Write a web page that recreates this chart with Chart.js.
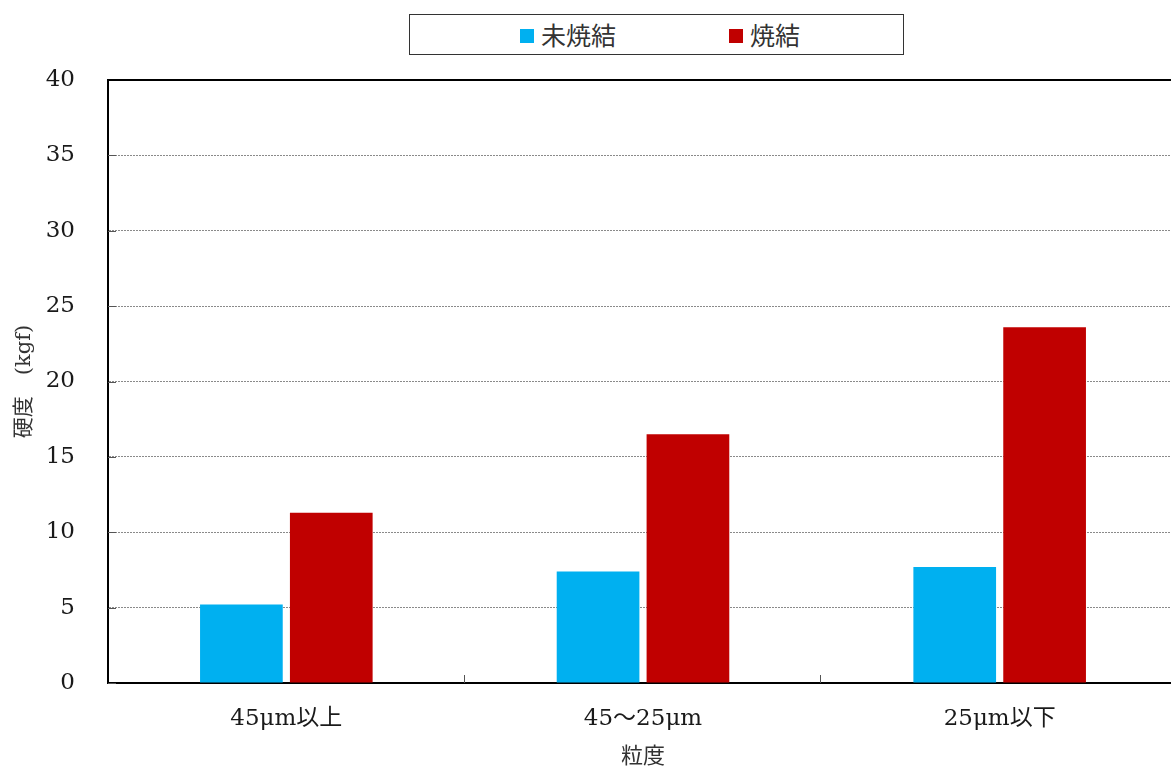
<!DOCTYPE html>
<html>
<head>
<meta charset="utf-8">
<script src="https://cdn.jsdelivr.net/npm/chart.js@4"></script>
<style>
  html, body { margin: 0; padding: 0; background: #fff; overflow: hidden; }
  #wrap { position: relative; width: 1200px; height: 767px; }
  #legend {
    position: absolute; left: 409px; top: 14px; width: 493px; height: 39px;
    border: 1.5px solid #333; background: #fff; box-sizing: content-box;
    font-family: 'Noto Sans CJK JP', sans-serif; font-size: 25px; color: #333;
  }
  .item { position: absolute; top: 0; height: 39px; line-height: 39px; white-space: nowrap; }
  .sw { display: inline-block; width: 14px; height: 14px; vertical-align: middle; margin-right: 7px; position: relative; top: -2px; }
</style>
</head>
<body>
<div id="wrap">
  <canvas id="c" width="1200" height="767"></canvas>
  <div id="legend"></div>
</div>
<script>
const categories = ['45μm以上', '45～25μm', '25μm以下'];
const seriesNames = ['未焼結', '焼結'];
const unsintered = [5.2, 7.4, 7.7];
const sintered = [11.3, 16.5, 23.6];
const seriesColors = ['#00B0F0', '#C00000'];
const yMin = 0, yMax = 40, yStep = 5;
const xTitle = '粒度';
const yTitle = '硬度　(kgf)';

// HTML legend built from series arrays
const legendEl = document.getElementById('legend');
const legendX = [110, 319];
seriesNames.forEach((n, i) => {
  const d = document.createElement('div');
  d.className = 'item';
  d.style.left = legendX[i] + 'px';
  const s = document.createElement('span');
  s.className = 'sw';
  s.style.background = seriesColors[i];
  d.appendChild(s);
  d.appendChild(document.createTextNode(n));
  legendEl.appendChild(d);
});

const insideTicks = {
  id: 'insideTicks',
  afterDraw(chart) {
    const { ctx, chartArea: a, scales: { x, y } } = chart;
    ctx.save();
    ctx.strokeStyle = '#555';
    ctx.lineWidth = 1;
    y.ticks.forEach(t => {
      const py = Math.round(y.getPixelForValue(t.value)) + 0.5;
      ctx.beginPath(); ctx.moveTo(a.left, py); ctx.lineTo(a.left + 8, py); ctx.stroke();
    });
    for (let i = 1; i < categories.length; i++) {
      const px = Math.round((x.getPixelForTick(i - 1) + x.getPixelForTick(i)) / 2) - 0.5;
      ctx.beginPath(); ctx.moveTo(px, a.bottom); ctx.lineTo(px, a.bottom - 8); ctx.stroke();
    }
    ctx.strokeStyle = '#000';
    ctx.lineWidth = 2;
    ctx.beginPath(); ctx.moveTo(a.left, a.top); ctx.lineTo(a.right, a.top); ctx.stroke();
    ctx.beginPath(); ctx.moveTo(a.right, a.top); ctx.lineTo(a.right, a.bottom); ctx.stroke();
    ctx.restore();
  }
};

new Chart(document.getElementById('c'), {
  type: 'bar',
  data: {
    labels: categories,
    datasets: [
      { label: seriesNames[0], data: unsintered, backgroundColor: seriesColors[0] },
      { label: seriesNames[1], data: sintered, backgroundColor: seriesColors[1] }
    ]
  },
  options: {
    responsive: false,
    animation: false,
    layout: { padding: { top: 80, right: 22, bottom: 0, left: 0 } },
    plugins: { legend: { display: false }, tooltip: { enabled: false } },
    datasets: { bar: { categoryPercentage: 0.504, barPercentage: 0.92 } },
    scales: {
      x: {
        grid: { display: false, drawTicks: false },
        border: { display: true, color: '#000', width: 2 },
        ticks: { color: '#1a1a1a', padding: 22,
          font: { family: "'DejaVu Serif','Noto Sans CJK JP',serif", size: 23 } },
        title: { display: true, text: xTitle, color: '#333', padding: { top: 0, bottom: 0 },
          font: { family: "'Noto Sans CJK JP',sans-serif", size: 22, lineHeight: 1.1 } },
        afterFit(s) { s.height = 84; }
      },
      y: {
        min: yMin, max: yMax,
        ticks: { stepSize: yStep, color: '#1a1a1a', padding: 33,
          font: { family: "'DejaVu Serif',serif", size: 23, lineHeight: 1.0 } },
        grid: { color: '#8a8a8a', lineWidth: 1, drawTicks: false },
        border: { display: true, color: '#000', width: 2, dash: [2, 1] },
        title: { display: true, text: yTitle, color: '#333', padding: { top: 12, bottom: 0 },
          font: { family: "'DejaVu Serif','Noto Sans CJK JP',serif", size: 21 } },
        afterFit(s) { s.width = 108; }
      }
    }
  },
  plugins: [insideTicks]
});
</script>
</body>
</html>
